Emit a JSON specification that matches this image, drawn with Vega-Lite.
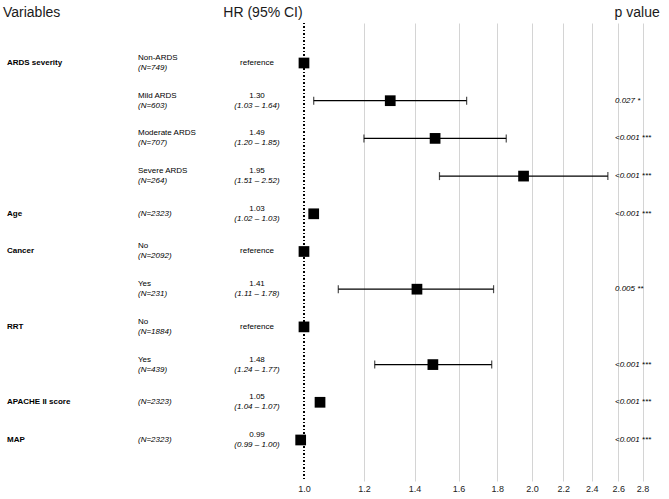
{
  "$schema": "https://vega.github.io/schema/vega-lite/v6.json",
  "width": 669,
  "height": 458,
  "autosize": {"type": "none"},
  "padding": {"top": 23, "bottom": 18, "left": 0, "right": 0},
  "background": "white",
  "config": {
    "view": {"stroke": null},
    "font": "Liberation Sans",
    "text": {"font": "Liberation Sans", "color": "#000000"}
  },
  "data": {
    "values": [
      {"row": 1, "var": "ARDS severity", "sub": "Non-ARDS", "n": "(N=749)", "hr": "reference", "ci": "", "p": "", "est": 1.0, "lo": null, "hi": null},
      {"row": 2, "var": "", "sub": "Mild ARDS", "n": "(N=603)", "hr": "1.30", "ci": "(1.03 – 1.64)", "p": "0.027 *", "est": 1.30, "lo": 1.03, "hi": 1.64},
      {"row": 3, "var": "", "sub": "Moderate ARDS", "n": "(N=707)", "hr": "1.49", "ci": "(1.20 – 1.85)", "p": "<0.001 ***", "est": 1.49, "lo": 1.20, "hi": 1.85},
      {"row": 4, "var": "", "sub": "Severe ARDS", "n": "(N=264)", "hr": "1.95", "ci": "(1.51 – 2.52)", "p": "<0.001 ***", "est": 1.95, "lo": 1.51, "hi": 2.52},
      {"row": 5, "var": "Age", "sub": "", "n": "(N=2323)", "hr": "1.03", "ci": "(1.02 – 1.03)", "p": "<0.001 ***", "est": 1.03, "lo": null, "hi": null},
      {"row": 6, "var": "Cancer", "sub": "No", "n": "(N=2092)", "hr": "reference", "ci": "", "p": "", "est": 1.0, "lo": null, "hi": null},
      {"row": 7, "var": "", "sub": "Yes", "n": "(N=231)", "hr": "1.41", "ci": "(1.11 – 1.78)", "p": "0.005 **", "est": 1.41, "lo": 1.11, "hi": 1.78},
      {"row": 8, "var": "RRT", "sub": "No", "n": "(N=1884)", "hr": "reference", "ci": "", "p": "", "est": 1.0, "lo": null, "hi": null},
      {"row": 9, "var": "", "sub": "Yes", "n": "(N=439)", "hr": "1.48", "ci": "(1.24 – 1.77)", "p": "<0.001 ***", "est": 1.48, "lo": 1.24, "hi": 1.77},
      {"row": 10, "var": "APACHE II score", "sub": "", "n": "(N=2323)", "hr": "1.05", "ci": "(1.04 – 1.07)", "p": "<0.001 ***", "est": 1.05, "lo": null, "hi": null},
      {"row": 11, "var": "MAP", "sub": "", "n": "(N=2323)", "hr": "0.99", "ci": "(0.99 – 1.00)", "p": "<0.001 ***", "est": 0.99, "lo": null, "hi": null}
    ]
  },
  "layer": [
    {
      "mark": {"type": "rule", "opacity": 0},
      "encoding": {
        "x": {"datum": 1, "type": "quantitative",
          "scale": {"type": "log", "domain": [0.3967, 3.035], "nice": false},
          "axis": {
            "title": null, "domain": false, "ticks": false,
            "values": [1.0, 1.2, 1.4, 1.6, 1.8, 2.0, 2.2, 2.4, 2.6, 2.8],
            "format": ".1f", "labelFontSize": 9, "labelColor": "#222222",
            "labelPadding": 3, "labelFont": "Liberation Sans",
            "grid": true, "gridColor": "#d4d4d4", "gridWidth": 1,
            "gridOpacity": {"condition": {"test": "datum.value == 1", "value": 0}, "value": 1}
          }
        }
      }
    },
    {
      "mark": {"type": "rule", "color": "#000000", "strokeWidth": 1.4, "strokeDash": [1, 2.5]},
      "encoding": {
        "x": {"datum": 1, "type": "quantitative", "scale": {"type": "log", "domain": [0.3967, 3.035], "nice": false}}
      }
    },
    {
      "transform": [{"filter": "datum.lo != null"}],
      "mark": {"type": "rule", "color": "#000000", "strokeWidth": 1.2},
      "encoding": {
        "x": {"field": "lo", "type": "quantitative", "scale": {"type": "log", "domain": [0.3967, 3.035], "nice": false}},
        "x2": {"field": "hi"},
        "y": {"field": "row", "type": "quantitative", "scale": {"domain": [-0.061, 12.088], "reverse": true, "nice": false, "zero": false}, "axis": null}
      }
    },
    {
      "transform": [{"filter": "datum.lo != null"}],
      "mark": {"type": "tick", "orient": "vertical", "color": "#000000", "thickness": 1.2, "size": 8},
      "encoding": {
        "x": {"field": "lo", "type": "quantitative", "scale": {"type": "log", "domain": [0.3967, 3.035], "nice": false}},
        "y": {"field": "row", "type": "quantitative", "scale": {"domain": [-0.061, 12.088], "reverse": true, "nice": false, "zero": false}, "axis": null}
      }
    },
    {
      "transform": [{"filter": "datum.hi != null"}],
      "mark": {"type": "tick", "orient": "vertical", "color": "#000000", "thickness": 1.2, "size": 8},
      "encoding": {
        "x": {"field": "hi", "type": "quantitative", "scale": {"type": "log", "domain": [0.3967, 3.035], "nice": false}},
        "y": {"field": "row", "type": "quantitative", "scale": {"domain": [-0.061, 12.088], "reverse": true, "nice": false, "zero": false}, "axis": null}
      }
    },
    {
      "mark": {"type": "point", "shape": "square", "filled": true, "color": "#000000", "size": 115, "opacity": 1},
      "encoding": {
        "x": {"field": "est", "type": "quantitative", "scale": {"type": "log", "domain": [0.3967, 3.035], "nice": false}},
        "y": {"field": "row", "type": "quantitative", "scale": {"domain": [-0.061, 12.088], "reverse": true, "nice": false, "zero": false}, "axis": null}
      }
    },
    {
      "mark": {"type": "text", "align": "left", "baseline": "middle", "fontSize": 8, "fontWeight": "bold"},
      "encoding": {
        "x": {"datum": 0.4052, "type": "quantitative", "scale": {"type": "log", "domain": [0.3967, 3.035], "nice": false}},
        "y": {"field": "row", "type": "quantitative", "scale": {"domain": [-0.061, 12.088], "reverse": true, "nice": false, "zero": false}, "axis": null},
        "text": {"field": "var"}
      }
    },
    {
      "transform": [{"filter": "datum.sub != ''"}],
      "mark": {"type": "text", "align": "left", "baseline": "middle", "fontSize": 8, "dy": -5},
      "encoding": {
        "x": {"datum": 0.6036, "type": "quantitative", "scale": {"type": "log", "domain": [0.3967, 3.035], "nice": false}},
        "y": {"field": "row", "type": "quantitative", "scale": {"domain": [-0.061, 12.088], "reverse": true, "nice": false, "zero": false}, "axis": null},
        "text": {"field": "sub"}
      }
    },
    {
      "transform": [{"filter": "datum.sub != ''"}],
      "mark": {"type": "text", "align": "left", "baseline": "middle", "fontSize": 8, "fontStyle": "italic", "dy": 5},
      "encoding": {
        "x": {"datum": 0.6036, "type": "quantitative", "scale": {"type": "log", "domain": [0.3967, 3.035], "nice": false}},
        "y": {"field": "row", "type": "quantitative", "scale": {"domain": [-0.061, 12.088], "reverse": true, "nice": false, "zero": false}, "axis": null},
        "text": {"field": "n"}
      }
    },
    {
      "transform": [{"filter": "datum.sub == ''"}],
      "mark": {"type": "text", "align": "left", "baseline": "middle", "fontSize": 8, "fontStyle": "italic"},
      "encoding": {
        "x": {"datum": 0.6036, "type": "quantitative", "scale": {"type": "log", "domain": [0.3967, 3.035], "nice": false}},
        "y": {"field": "row", "type": "quantitative", "scale": {"domain": [-0.061, 12.088], "reverse": true, "nice": false, "zero": false}, "axis": null},
        "text": {"field": "n"}
      }
    },
    {
      "transform": [{"filter": "datum.ci != ''"}],
      "mark": {"type": "text", "align": "center", "baseline": "middle", "fontSize": 8, "dy": -5},
      "encoding": {
        "x": {"datum": 0.8668, "type": "quantitative", "scale": {"type": "log", "domain": [0.3967, 3.035], "nice": false}},
        "y": {"field": "row", "type": "quantitative", "scale": {"domain": [-0.061, 12.088], "reverse": true, "nice": false, "zero": false}, "axis": null},
        "text": {"field": "hr"}
      }
    },
    {
      "transform": [{"filter": "datum.ci != ''"}],
      "mark": {"type": "text", "align": "center", "baseline": "middle", "fontSize": 8, "fontStyle": "italic", "dy": 5},
      "encoding": {
        "x": {"datum": 0.8668, "type": "quantitative", "scale": {"type": "log", "domain": [0.3967, 3.035], "nice": false}},
        "y": {"field": "row", "type": "quantitative", "scale": {"domain": [-0.061, 12.088], "reverse": true, "nice": false, "zero": false}, "axis": null},
        "text": {"field": "ci"}
      }
    },
    {
      "transform": [{"filter": "datum.ci == ''"}],
      "mark": {"type": "text", "align": "center", "baseline": "middle", "fontSize": 8},
      "encoding": {
        "x": {"datum": 0.8668, "type": "quantitative", "scale": {"type": "log", "domain": [0.3967, 3.035], "nice": false}},
        "y": {"field": "row", "type": "quantitative", "scale": {"domain": [-0.061, 12.088], "reverse": true, "nice": false, "zero": false}, "axis": null},
        "text": {"field": "hr"}
      }
    },
    {
      "mark": {"type": "text", "align": "left", "baseline": "middle", "fontSize": 8, "fontStyle": "italic"},
      "encoding": {
        "x": {"datum": 2.575, "type": "quantitative", "scale": {"type": "log", "domain": [0.3967, 3.035], "nice": false}},
        "y": {"field": "row", "type": "quantitative", "scale": {"domain": [-0.061, 12.088], "reverse": true, "nice": false, "zero": false}, "axis": null},
        "text": {"field": "p"}
      }
    },
    {
      "data": {"values": [{}]},
      "mark": {"type": "text", "align": "left", "baseline": "middle", "fontSize": 14, "color": "#1a1a1a"},
      "encoding": {
        "x": {"datum": 0.4003, "type": "quantitative", "scale": {"type": "log", "domain": [0.3967, 3.035], "nice": false}},
        "y": {"datum": -0.33, "type": "quantitative", "scale": {"domain": [-0.061, 12.088], "reverse": true, "nice": false, "zero": false}, "axis": null},
        "text": {"value": "Variables"}
      }
    },
    {
      "data": {"values": [{}]},
      "mark": {"type": "text", "align": "center", "baseline": "middle", "fontSize": 14, "color": "#1a1a1a"},
      "encoding": {
        "x": {"datum": 0.8828, "type": "quantitative", "scale": {"type": "log", "domain": [0.3967, 3.035], "nice": false}},
        "y": {"datum": -0.33, "type": "quantitative", "scale": {"domain": [-0.061, 12.088], "reverse": true, "nice": false, "zero": false}, "axis": null},
        "text": {"value": "HR (95% CI)"}
      }
    },
    {
      "data": {"values": [{}]},
      "mark": {"type": "text", "align": "left", "baseline": "middle", "fontSize": 14, "color": "#1a1a1a"},
      "encoding": {
        "x": {"datum": 2.572, "type": "quantitative", "scale": {"type": "log", "domain": [0.3967, 3.035], "nice": false}},
        "y": {"datum": -0.33, "type": "quantitative", "scale": {"domain": [-0.061, 12.088], "reverse": true, "nice": false, "zero": false}, "axis": null},
        "text": {"value": "p value"}
      }
    }
  ]
}
